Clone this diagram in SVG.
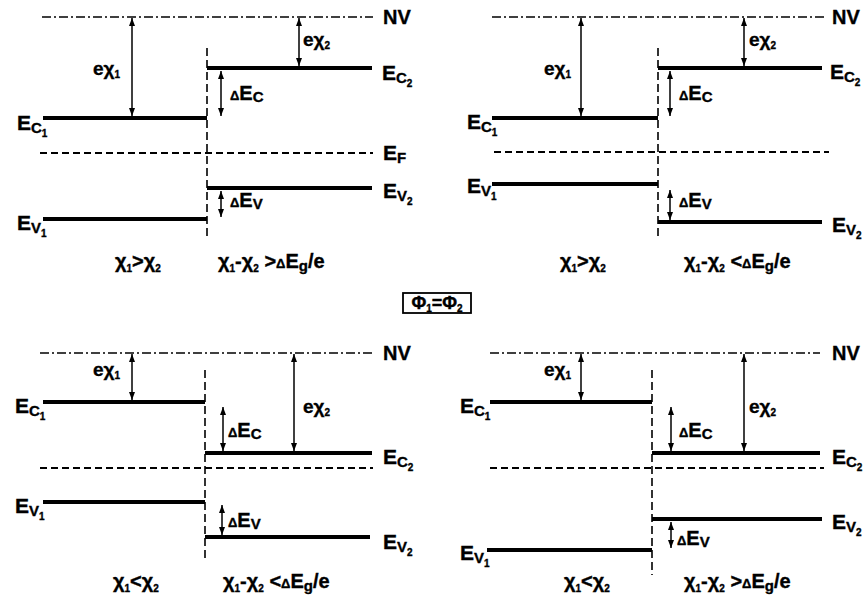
<svg xmlns="http://www.w3.org/2000/svg" width="864" height="599" viewBox="0 0 864 599">
<defs>
<marker id="ah" viewBox="0 0 8 8" refX="8" refY="4" markerWidth="8" markerHeight="8" markerUnits="userSpaceOnUse" orient="auto-start-reverse">
<path d="M0,1 L8,4 L0,7 z" fill="#000"/>
</marker>
<style>
.lv{stroke:#000;stroke-width:4;fill:none}
.nv{stroke:#000;stroke-width:1.5;stroke-dasharray:9 3 2 3;fill:none}
.ef{stroke:#000;stroke-width:1.8;stroke-dasharray:7 4;fill:none}
.vd{stroke:#000;stroke-width:1.6;stroke-dasharray:8 4;fill:none}
.ar{stroke:#000;stroke-width:1.5;fill:none;marker-start:url(#ah);marker-end:url(#ah)}
text{font-family:"Liberation Sans",Arial,sans-serif;font-weight:bold;fill:#000;stroke:#000;stroke-width:0.35}
.b{font-size:21px}
.n{font-size:20px}
.g{font-size:19px}
.f{font-size:20px}
.s1{font-size:15px}
.s2{font-size:10px}
.d{font-size:13px}
</style>
</defs>

<g id="panel1">
<line class="nv" x1="42" y1="17" x2="373" y2="17"/>
<line class="vd" x1="207" y1="48" x2="207" y2="238"/>
<line class="lv" x1="43" y1="118" x2="207" y2="118"/>
<line class="lv" x1="207" y1="68" x2="372" y2="68"/>
<line class="ef" x1="40" y1="153" x2="373" y2="153"/>
<line class="lv" x1="207" y1="188" x2="372" y2="188"/>
<line class="lv" x1="43" y1="219" x2="207" y2="219"/>
<text class="n" x="383" y="24">NV</text>
<text class="b" x="17" y="130">E<tspan class="s1" dy="3">C</tspan><tspan class="s2" dy="4">1</tspan></text>
<text class="b" x="382" y="80">E<tspan class="s1" dy="3">C</tspan><tspan class="s2" dy="4">2</tspan></text>
<text class="b" x="383" y="160">E<tspan class="s1" dy="3">F</tspan></text>
<text class="b" x="383" y="198">E<tspan class="s1" dy="3">V</tspan><tspan class="s2" dy="4">2</tspan></text>
<text class="b" x="17" y="230">E<tspan class="s1" dy="3">V</tspan><tspan class="s2" dy="4">1</tspan></text>
<text class="g" x="93" y="75">eχ<tspan class="s2" dy="3">1</tspan></text>
<text class="g" x="303" y="46">eχ<tspan class="s2" dy="3">2</tspan></text>
<text class="n" x="230" y="100"><tspan class="d">Δ</tspan>E<tspan class="s1" dy="2">C</tspan></text>
<text class="n" x="230" y="207"><tspan class="d">Δ</tspan>E<tspan class="s1" dy="2">V</tspan></text>
<text class="f" x="115" y="268">χ<tspan class="s2" dy="4">1</tspan><tspan dy="-4">&gt;χ</tspan><tspan class="s2" dy="4">2</tspan></text>
<text class="f" x="218" y="268">χ<tspan class="s2" dy="4">1</tspan><tspan dy="-4">-χ</tspan><tspan class="s2" dy="4">2</tspan><tspan dy="-4"> &gt;</tspan><tspan class="d">Δ</tspan>E<tspan class="s1" dy="3">g</tspan><tspan dy="-3">/e</tspan></text>
</g>

<g id="panel2">
<line class="nv" x1="492" y1="17" x2="824" y2="17"/>
<line class="vd" x1="658" y1="48" x2="658" y2="238"/>
<line class="lv" x1="492" y1="118" x2="658" y2="118"/>
<line class="lv" x1="658" y1="68" x2="822" y2="68"/>
<line class="ef" x1="494" y1="152" x2="829" y2="152"/>
<line class="lv" x1="492" y1="184" x2="658" y2="184"/>
<line class="lv" x1="658" y1="222" x2="822" y2="222"/>
<text class="n" x="832" y="24">NV</text>
<text class="b" x="467" y="129">E<tspan class="s1" dy="3">C</tspan><tspan class="s2" dy="4">1</tspan></text>
<text class="b" x="830" y="79">E<tspan class="s1" dy="3">C</tspan><tspan class="s2" dy="4">2</tspan></text>
<text class="b" x="467" y="193">E<tspan class="s1" dy="3">V</tspan><tspan class="s2" dy="4">1</tspan></text>
<text class="b" x="832" y="232">E<tspan class="s1" dy="3">V</tspan><tspan class="s2" dy="4">2</tspan></text>
<text class="g" x="544" y="75">eχ<tspan class="s2" dy="3">1</tspan></text>
<text class="g" x="749" y="46">eχ<tspan class="s2" dy="3">2</tspan></text>
<text class="n" x="679" y="100"><tspan class="d">Δ</tspan>E<tspan class="s1" dy="2">C</tspan></text>
<text class="n" x="679" y="207"><tspan class="d">Δ</tspan>E<tspan class="s1" dy="2">V</tspan></text>
<text class="f" x="560" y="268">χ<tspan class="s2" dy="4">1</tspan><tspan dy="-4">&gt;χ</tspan><tspan class="s2" dy="4">2</tspan></text>
<text class="f" x="684" y="268">χ<tspan class="s2" dy="4">1</tspan><tspan dy="-4">-χ</tspan><tspan class="s2" dy="4">2</tspan><tspan dy="-4"> &lt;</tspan><tspan class="d">Δ</tspan>E<tspan class="s1" dy="3">g</tspan><tspan dy="-3">/e</tspan></text>
</g>

<g id="phi-box">
<rect x="403" y="293" width="68" height="20" fill="none" stroke="#000" stroke-width="1.8"/>
<text class="f" x="437" y="309" text-anchor="middle" style="font-size:18px">Φ<tspan class="s2" dy="3">1</tspan><tspan dy="-3">=Φ</tspan><tspan class="s2" dy="3">2</tspan></text>
</g>

<g id="panel3">
<line class="nv" x1="40" y1="353" x2="373" y2="353"/>
<line class="vd" x1="205" y1="370" x2="205" y2="560"/>
<line class="lv" x1="43" y1="402" x2="205" y2="402"/>
<line class="lv" x1="205" y1="453" x2="372" y2="453"/>
<line class="ef" x1="40" y1="468" x2="373" y2="468"/>
<line class="lv" x1="43" y1="502" x2="205" y2="502"/>
<line class="lv" x1="205" y1="537" x2="370" y2="537"/>
<text class="n" x="383" y="360">NV</text>
<text class="b" x="15" y="413">E<tspan class="s1" dy="3">C</tspan><tspan class="s2" dy="4">1</tspan></text>
<text class="b" x="383" y="464">E<tspan class="s1" dy="3">C</tspan><tspan class="s2" dy="4">2</tspan></text>
<text class="b" x="15" y="513">E<tspan class="s1" dy="3">V</tspan><tspan class="s2" dy="4">1</tspan></text>
<text class="b" x="383" y="549">E<tspan class="s1" dy="3">V</tspan><tspan class="s2" dy="4">2</tspan></text>
<text class="g" x="93" y="376">eχ<tspan class="s2" dy="3">1</tspan></text>
<text class="g" x="303" y="413">eχ<tspan class="s2" dy="3">2</tspan></text>
<text class="n" x="228" y="437"><tspan class="d">Δ</tspan>E<tspan class="s1" dy="2">C</tspan></text>
<text class="n" x="228" y="527"><tspan class="d">Δ</tspan>E<tspan class="s1" dy="2">V</tspan></text>
<text class="f" x="113" y="588">χ<tspan class="s2" dy="4">1</tspan><tspan dy="-4">&lt;χ</tspan><tspan class="s2" dy="4">2</tspan></text>
<text class="f" x="223" y="588">χ<tspan class="s2" dy="4">1</tspan><tspan dy="-4">-χ</tspan><tspan class="s2" dy="4">2</tspan><tspan dy="-4"> &lt;</tspan><tspan class="d">Δ</tspan>E<tspan class="s1" dy="3">g</tspan><tspan dy="-3">/e</tspan></text>
</g>

<g id="panel4">
<line class="nv" x1="490" y1="353" x2="820" y2="353"/>
<line class="vd" x1="652" y1="370" x2="652" y2="575"/>
<line class="lv" x1="490" y1="402" x2="652" y2="402"/>
<line class="lv" x1="652" y1="453" x2="820" y2="453"/>
<line class="ef" x1="490" y1="468" x2="824" y2="468"/>
<line class="lv" x1="652" y1="519" x2="822" y2="519"/>
<line class="lv" x1="487" y1="550" x2="652" y2="550"/>
<text class="n" x="832" y="360">NV</text>
<text class="b" x="460" y="413">E<tspan class="s1" dy="3">C</tspan><tspan class="s2" dy="4">1</tspan></text>
<text class="b" x="832" y="464">E<tspan class="s1" dy="3">C</tspan><tspan class="s2" dy="4">2</tspan></text>
<text class="b" x="832" y="529">E<tspan class="s1" dy="3">V</tspan><tspan class="s2" dy="4">2</tspan></text>
<text class="b" x="460" y="560">E<tspan class="s1" dy="3">V</tspan><tspan class="s2" dy="4">1</tspan></text>
<text class="g" x="544" y="376">eχ<tspan class="s2" dy="3">1</tspan></text>
<text class="g" x="749" y="413">eχ<tspan class="s2" dy="3">2</tspan></text>
<text class="n" x="679" y="437"><tspan class="d">Δ</tspan>E<tspan class="s1" dy="2">C</tspan></text>
<text class="n" x="677" y="545"><tspan class="d">Δ</tspan>E<tspan class="s1" dy="2">V</tspan></text>
<text class="f" x="564" y="588">χ<tspan class="s2" dy="4">1</tspan><tspan dy="-4">&lt;χ</tspan><tspan class="s2" dy="4">2</tspan></text>
<text class="f" x="684" y="588">χ<tspan class="s2" dy="4">1</tspan><tspan dy="-4">-χ</tspan><tspan class="s2" dy="4">2</tspan><tspan dy="-4"> &gt;</tspan><tspan class="d">Δ</tspan>E<tspan class="s1" dy="3">g</tspan><tspan dy="-3">/e</tspan></text>
</g>

<g id="connectors">
<line class="ar" x1="132" y1="18" x2="132" y2="116"/>
<line class="ar" x1="299" y1="18" x2="299" y2="66"/>
<line class="ar" x1="221" y1="71" x2="221" y2="116"/>
<line class="ar" x1="221" y1="191" x2="221" y2="217"/>
<line class="ar" x1="581" y1="18" x2="581" y2="116"/>
<line class="ar" x1="744" y1="18" x2="744" y2="66"/>
<line class="ar" x1="670" y1="71" x2="670" y2="116"/>
<line class="ar" x1="670" y1="190" x2="670" y2="220"/>
<line class="ar" x1="132" y1="354" x2="132" y2="400"/>
<line class="ar" x1="294" y1="354" x2="294" y2="451"/>
<line class="ar" x1="223" y1="407" x2="223" y2="451"/>
<line class="ar" x1="222" y1="505" x2="222" y2="535"/>
<line class="ar" x1="581" y1="354" x2="581" y2="400"/>
<line class="ar" x1="744" y1="354" x2="744" y2="451"/>
<line class="ar" x1="671" y1="407" x2="671" y2="451"/>
<line class="ar" x1="671" y1="522" x2="671" y2="548"/>
</g>
</svg>
